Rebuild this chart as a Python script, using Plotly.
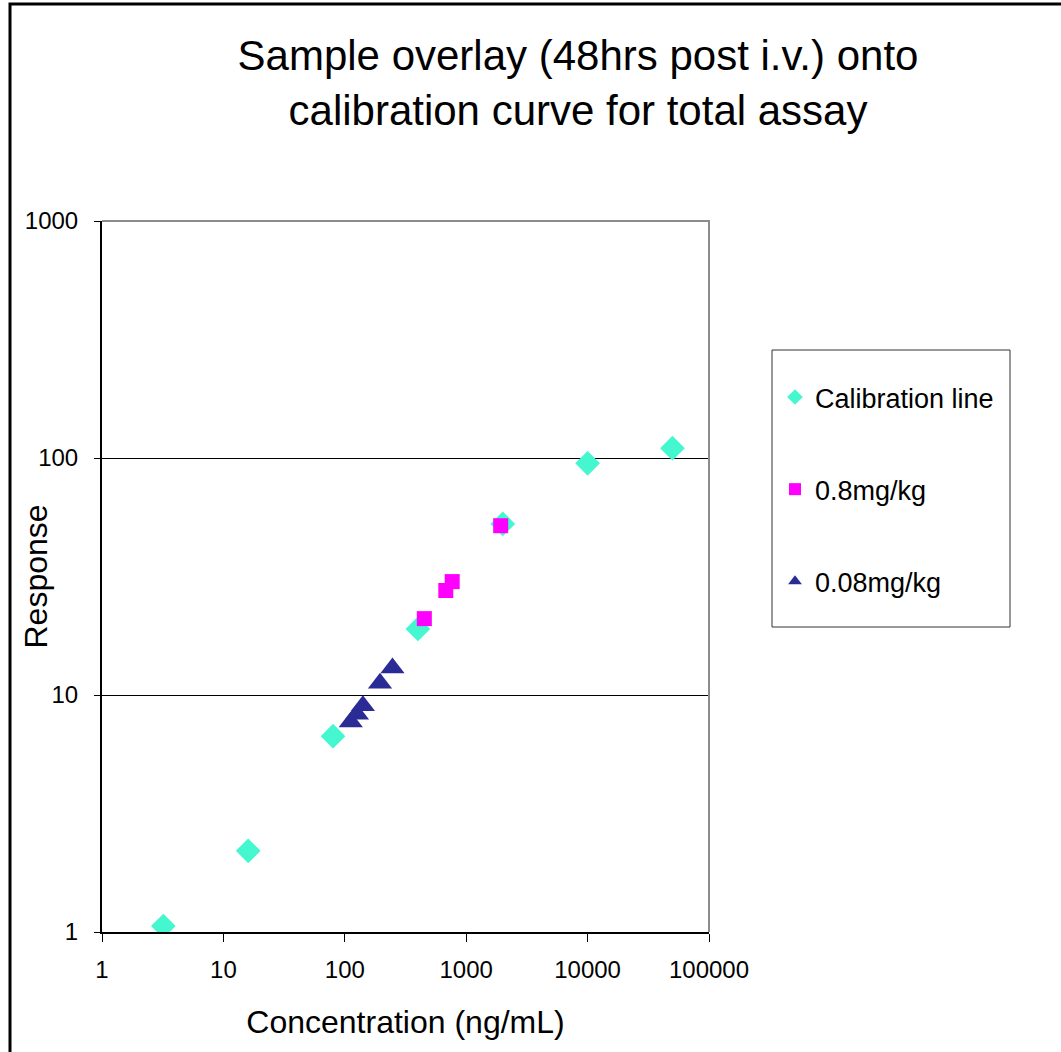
import plotly.graph_objects as go

# ---- data ----
cal_conc = [3.2, 16, 80, 400, 2000, 10000, 50000]
cal_resp = [1.06, 2.2, 6.7, 19, 52.7, 95, 110]

hi_conc = [452, 679, 767, 1923]
hi_resp = [21, 27.6, 30.1, 51.8]

lo_conc = [112, 126, 141, 195, 247]
lo_resp = [7.7, 8.3, 9.0, 11.2, 13.0]

x_tickvals = [1, 10, 100, 1000, 10000, 100000]
x_ticktext = ["1", "10", "100", "1000", "10000", "100000"]
y_tickvals = [1, 10, 100, 1000]
y_ticktext = ["1", "10", "100", "1000"]

FONT = "Liberation Sans, Arial, sans-serif"

fig = go.Figure()
fig.add_trace(go.Scatter(
    x=cal_conc, y=cal_resp, mode="markers", name="Calibration line",
    legendgroup="a",
    marker=dict(symbol="diamond", size=19, color="#44F7CF")))
fig.add_trace(go.Scatter(
    x=hi_conc, y=hi_resp, mode="markers", name="0.8mg/kg",
    legendgroup="b",
    marker=dict(symbol="square", size=15, color="#FF00FF")))
fig.add_trace(go.Scatter(
    x=lo_conc, y=lo_resp, mode="markers", name="0.08mg/kg",
    legendgroup="c",
    marker=dict(symbol="triangle-up", size=21, color="#2B2B96")))

# plot-area geometry in pixels
W, H = 1061, 1052
L, R, T, B = 102, 709, 221, 932
pw, ph = R - L, B - T

def px(xp):
    return (xp - L) / pw

def py(yp):
    return (B - yp) / ph

fig.update_layout(
    width=W, height=H,
    margin=dict(l=L, r=W - R, t=T, b=H - B, autoexpand=False),
    paper_bgcolor="white", plot_bgcolor="white",
    font=dict(family=FONT, color="black", size=24),
    title=dict(
        text="Sample overlay (48hrs post i.v.) onto<br>calibration curve for total assay",
        x=578 / W, xanchor="center", y=1 - 70 / H, yanchor="middle",
        font=dict(size=42, family=FONT, color="black")),
    showlegend=True,
    legend=dict(
        x=px(775), y=py(373), xanchor="left", yanchor="top",
        bgcolor="rgba(0,0,0,0)", borderwidth=0,
        font=dict(size=27, family=FONT, color="black"),
        tracegroupgap=54, itemsizing="constant"),
    xaxis=dict(
        type="log", range=[0, 5], tickvals=x_tickvals, ticktext=x_ticktext,
        showgrid=False, zeroline=False, automargin=False,
        showline=True, linecolor="black", linewidth=2,
        ticks="outside", ticklen=8, tickcolor="black", tickwidth=1,
        ticklabelstandoff=7,
        tickfont=dict(size=24),
        title=dict(text="Concentration (ng/mL)", font=dict(size=32), standoff=29)),
    yaxis=dict(
        type="log", range=[0, 3], tickvals=y_tickvals, ticktext=y_ticktext,
        showgrid=True, gridcolor="black", gridwidth=1, zeroline=False,
        automargin=False,
        showline=True, linecolor="black", linewidth=2,
        ticks="outside", ticklen=6, tickcolor="black", tickwidth=1,
        ticklabelstandoff=11,
        tickfont=dict(size=24)),
    annotations=[
        dict(text="Response", textangle=-90, showarrow=False,
             xref="paper", yref="paper", x=px(35), y=0.5,
             xanchor="center", yanchor="middle",
             font=dict(size=32, family=FONT, color="black")),
    ],
    shapes=[
        # gray top/right plot border
        dict(type="path", xref="paper", yref="paper",
             path="M 0,1 L 1,1 L 1,0", line=dict(color="#8C8C8C", width=2),
             layer="above"),
        # legend box
        dict(type="rect", xref="paper", yref="paper",
             x0=px(772), x1=px(1010), y0=py(627), y1=py(350),
             line=dict(color="#333333", width=1), layer="above"),
        # outer frame (top and left edges)
        dict(type="path", xref="paper", yref="paper",
             path=f"M {px(10)},{py(1100)} L {px(10)},{py(4)} L {px(1100)},{py(4)}",
             line=dict(color="black", width=3), layer="above"),
    ],
)

fig.write_html(
    "out.html",
    config={"displayModeBar": False},
    post_script="document.body.style.margin='0';document.body.style.overflow='hidden';",
)
